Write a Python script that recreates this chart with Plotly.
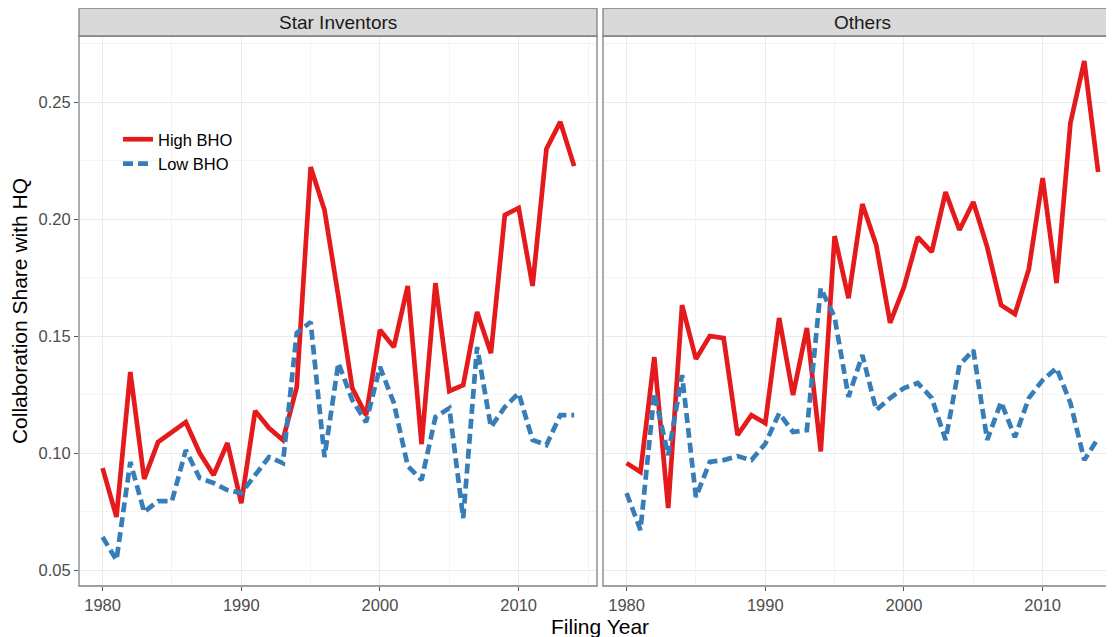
import plotly.graph_objects as go
from plotly.subplots import make_subplots

years = list(range(1980, 2015))

star_high = [0.0936, 0.0727, 0.1346, 0.0889, 0.1047, 0.1090, 0.1132, 0.1000, 0.0906, 0.1043,
             0.0786, 0.1180, 0.1107, 0.1056, 0.1282, 0.2222, 0.2038, 0.1670, 0.1278, 0.1162,
             0.1526, 0.1453, 0.1714, 0.1038, 0.1726, 0.1265, 0.1290, 0.1603, 0.1427, 0.2017,
             0.2047, 0.1714, 0.2299, 0.2415, 0.2226]
star_low = [0.0641, 0.0543, 0.0962, 0.0748, 0.0795, 0.0795, 0.1013, 0.0893, 0.0872, 0.0842,
            0.0829, 0.0905, 0.0983, 0.0957, 0.1513, 0.1560, 0.0983, 0.1385, 0.1227, 0.1132,
            0.1368, 0.1214, 0.0945, 0.0885, 0.1154, 0.1192, 0.0722, 0.1453, 0.1111, 0.1197,
            0.1256, 0.1056, 0.1034, 0.1162, 0.1162]
oth_high = [0.0957, 0.0919, 0.1410, 0.0765, 0.1632, 0.1402, 0.1500, 0.1491, 0.1077, 0.1162,
            0.1128, 0.1577, 0.1248, 0.1534, 0.1007, 0.1927, 0.1662, 0.2064, 0.1889, 0.1556,
            0.1709, 0.1923, 0.1859, 0.2115, 0.1953, 0.2073, 0.1880, 0.1632, 0.1594, 0.1786,
            0.2175, 0.1726, 0.2410, 0.2675, 0.2201]
oth_low = [0.0829, 0.0671, 0.1256, 0.0991, 0.1333, 0.0812, 0.0962, 0.0970, 0.0987, 0.0970,
           0.1040, 0.1170, 0.1090, 0.1098, 0.1705, 0.1580, 0.1240, 0.1419, 0.1184, 0.1235,
           0.1278, 0.1299, 0.1235, 0.1056, 0.1376, 0.1440, 0.1056, 0.1218, 0.1068, 0.1235,
           0.1312, 0.1363, 0.1214, 0.0970, 0.1064]

panels = ["Star Inventors", "Others"]
series_names = ["High BHO", "Low BHO"]
y_ticks = [0.05, 0.10, 0.15, 0.20, 0.25]
x_ticks = [1980, 1990, 2000, 2010]

RED = "#E41A1C"
BLUE = "#377EB8"
FONT = "Liberation Sans, Arial, sans-serif"

# page has an 8px body margin: shift everything by -8
OFF = 8
W, H = 1114 - OFF, 637 - OFF
ML, MR, MT = 79 - OFF, 0, 36 - OFF
PLOT_BOTTOM = 586 - OFF
MB = H - PLOT_BOTTOM
PW = W - ML - MR
PH = H - MT - MB

fig = make_subplots(rows=1, cols=2, shared_yaxes=True, horizontal_spacing=0.01)

data = [(star_high, star_low), (oth_high, oth_low)]
for c, (hi, lo) in enumerate(data, start=1):
    fig.add_trace(go.Scatter(x=years, y=hi, mode="lines", name=series_names[0],
                             line=dict(color=RED, width=4.7), showlegend=(c == 1),
                             legendgroup="hi"), row=1, col=c)
    fig.add_trace(go.Scatter(x=years, y=lo, mode="lines", name=series_names[1],
                             line=dict(color=BLUE, width=4.7, dash="10px,5px"), showlegend=(c == 1),
                             legendgroup="lo"), row=1, col=c)

left_dom = [0, 518 / PW]
right_dom = [(603 - 79) / PW, 1]
pxyr = 13.87
x0 = 1978.3
left_range = [x0, x0 + 518 / pxyr]
right_range = [x0, x0 + (1114 - 603) / pxyr]
y_range = [0.0432, 0.2782]

grid_major = "#ebebeb"
grid_minor = "#f4f4f4"
tickfont = dict(family=FONT, size=16.5, color="#4d4d4d")

common_x = dict(tickvals=x_ticks, ticktext=[str(v) for v in x_ticks], showgrid=True,
                gridcolor=grid_major, gridwidth=1, zeroline=False, ticks="outside",
                ticklen=4, tickcolor="#555555", tickfont=tickfont, showline=False,
                minor=dict(tickvals=[1985, 1995, 2005, 2015], showgrid=True,
                           gridcolor=grid_minor, gridwidth=1, ticks=""))
fig.update_xaxes(domain=left_dom, range=left_range, **common_x, row=1, col=1)
fig.update_xaxes(domain=right_dom, range=right_range, **common_x, row=1, col=2)

fig.update_yaxes(range=y_range, tickvals=y_ticks, ticktext=["%.2f" % v for v in y_ticks],
                 showgrid=True, gridcolor=grid_major, gridwidth=1, zeroline=False,
                 minor=dict(tickvals=[0.075, 0.125, 0.175, 0.225, 0.275], showgrid=True,
                            gridcolor=grid_minor, gridwidth=1, ticks=""),
                 tickfont=tickfont)
fig.update_yaxes(ticks="outside", ticklen=4, tickcolor="#555555",
                 title=dict(text="Collaboration Share with HQ",
                            font=dict(family=FONT, size=21, color="#000000"), standoff=8),
                 row=1, col=1)
fig.update_yaxes(ticks="", showticklabels=False, row=1, col=2)

border = "#808080"
strip_h = 28 / PH
shapes = []
shapes.append(dict(type="rect", xref="paper", yref="paper", x0=left_dom[0], x1=left_dom[1],
                   y0=0, y1=1, line=dict(color=border, width=1.3), fillcolor="rgba(0,0,0,0)",
                   layer="above"))
shapes.append(dict(type="rect", xref="paper", yref="paper", x0=right_dom[0], x1=1.003,
                   y0=0, y1=1, line=dict(color=border, width=1.3), fillcolor="rgba(0,0,0,0)",
                   layer="above"))
for dom in (left_dom, [right_dom[0], 1.003]):
    shapes.append(dict(type="rect", xref="paper", yref="paper", x0=dom[0], x1=dom[1],
                       y0=1, y1=1 + strip_h, line=dict(color=border, width=1.3),
                       fillcolor="#d9d9d9", layer="above"))

annotations = []
for name, dom in zip(panels, (left_dom, [right_dom[0], right_dom[0] + 518 / PW])):
    annotations.append(dict(text=name, xref="paper", yref="paper", x=(dom[0] + dom[1]) / 2,
                            y=1 + strip_h / 2, showarrow=False, xanchor="center",
                            yanchor="middle", font=dict(family=FONT, size=19, color="#1a1a1a")))
annotations.append(dict(text="Filing Year", xref="paper", yref="paper",
                        x=(600 - 79) / PW, y=-(626 - 586) / PH,
                        showarrow=False, xanchor="center", yanchor="middle",
                        font=dict(family=FONT, size=21, color="#000000")))

fig.update_layout(
    width=W, height=H,
    margin=dict(l=ML, r=MR, t=MT, b=MB, pad=0),
    plot_bgcolor="white", paper_bgcolor="white",
    font=dict(family=FONT),
    shapes=shapes, annotations=annotations,
    legend=dict(x=(118 - 79) / PW, y=(586 - 122) / PH, xanchor="left", yanchor="top",
                bgcolor="rgba(0,0,0,0)", font=dict(family=FONT, size=16.5, color="#000000"),
                tracegroupgap=0, itemwidth=30),
    showlegend=True,
)

fig.write_html("out.html")
